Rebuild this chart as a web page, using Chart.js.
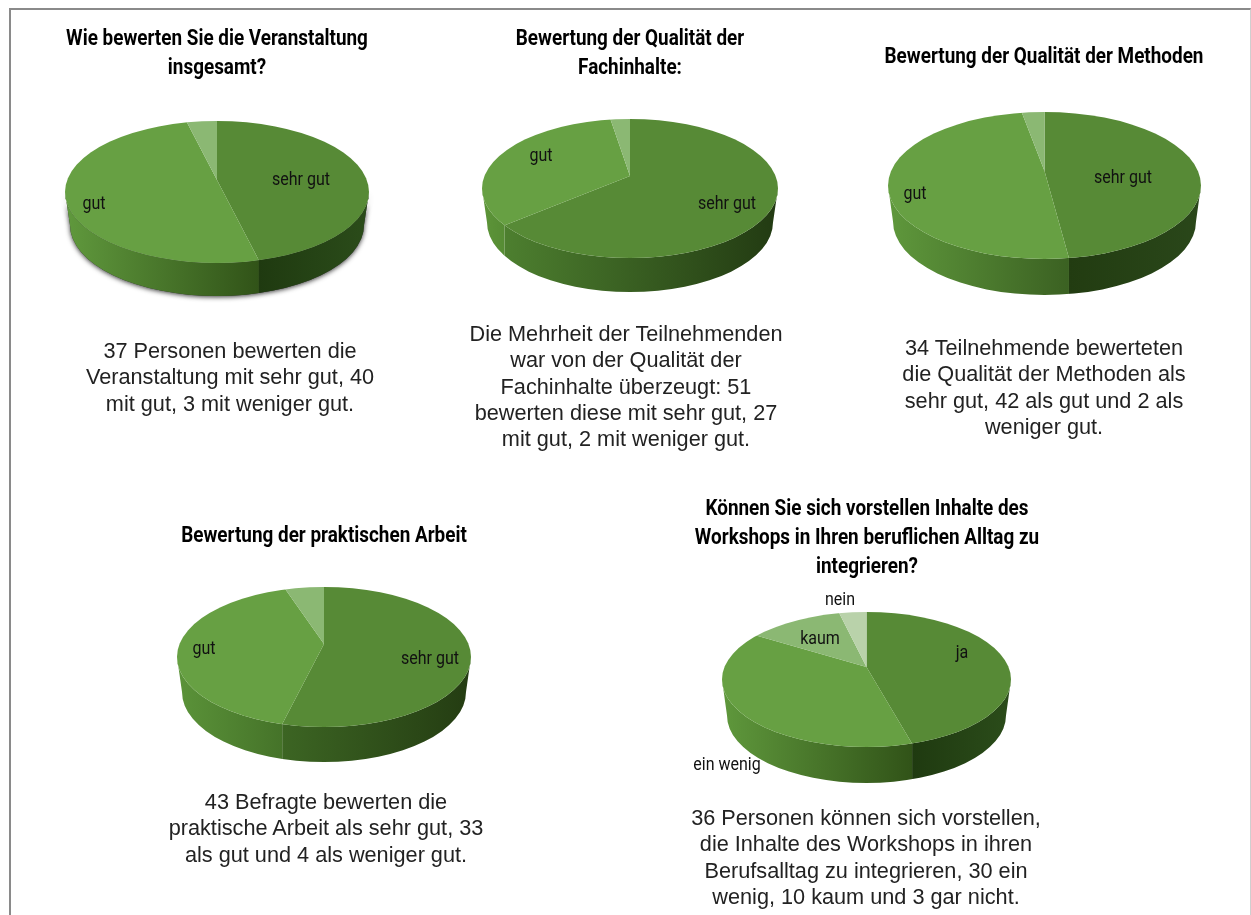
<!DOCTYPE html>
<html lang="de">
<head>
<meta charset="utf-8">
<title>Bewertung der Veranstaltung</title>
<script src="https://cdn.jsdelivr.net/npm/chart.js@4"></script>
<style>
  html, body { margin: 0; padding: 0; background: #fff; }
  body { width: 1251px; height: 915px; position: relative; overflow: hidden; }
  #frame { position: absolute; left: 9px; top: 8px; width: 1239px; height: 920px; border: 2px solid #8a8a8a; border-right: 1px solid #cfcfcf; }
  canvas { position: absolute; }
  .title, .body { position: absolute; text-align: center; white-space: nowrap; color: #000; }
  .title { font: bold 22.5px/29px Roboto, sans-serif; transform: translateX(-50%) scaleX(0.84); }
  .body { font: 21.7px/26.3px "Liberation Sans", Arial, sans-serif; color: #222; transform: translateX(-50%); }
</style>
</head>
<body>
<div id="frame"></div>
<script>
// values
const labelsRating = ['sehr gut', 'gut', 'weniger gut'];
const labelsUse = ['ja', 'ein wenig', 'kaum', 'nein'];
const valuesOverall = [37, 40, 3];
const valuesContent = [51, 27, 2];
// the slices in the picture are closer to even than the 34 / 42 in its caption
const valuesMethods = [37.5, 38.5, 2.2];
const valuesPractice = [43, 33, 4];
const valuesUse = [36, 30, 10, 3];

const colors = ['#578a36', '#67a043', '#8bb873', '#b9d2aa'];

// one entry per pie, geometry is in page pixels
const pies = [
  {
    labels: labelsRating, values: valuesOverall,
    title: ['Wie bewerten Sie die Veranstaltung', 'insgesamt?'], titleX: 217, titleY: 23,
    text: ['37 Personen bewerten die', 'Veranstaltung mit sehr gut, 40', 'mit gut, 3 mit weniger gut.'], textX: 230, textY: 338,
    left: 65, right: 369, top: 121, bottom: 263, apexY: 180, depth: 33, tilt: 0.46, shadow: true,
    walls: [['#1f3a10', '#2b4c1a'], ['#60993d', '#315318']],
    labelPos: [[301, 180], [94, 204], null]
  },
  {
    labels: labelsRating, values: valuesContent,
    title: ['Bewertung der Qualität der', 'Fachinhalte:'], titleX: 630, titleY: 23,
    text: ['Die Mehrheit der Teilnehmenden', 'war von der Qualität der', 'Fachinhalte überzeugt: 51', 'bewerten diese mit sehr gut, 27', 'mit gut, 2 mit weniger gut.'], textX: 626, textY: 321,
    left: 482, right: 778, top: 119, bottom: 258, apexY: 176, depth: 34, tilt: 0.46,
    walls: [['#4d7f2f', '#223a12'], ['#5d9539', '#568c34']],
    labelPos: [[727, 204], [541, 156], null]
  },
  {
    labels: labelsRating, values: valuesMethods,
    title: ['Bewertung der Qualität der Methoden'], titleX: 1044, titleY: 41,
    text: ['34 Teilnehmende bewerteten', 'die Qualität der Methoden als', 'sehr gut, 42 als gut und 2 als', 'weniger gut.'], textX: 1044, textY: 335,
    left: 888, right: 1201, top: 112, bottom: 259, apexY: 171, depth: 36, tilt: 0.46,
    walls: [['#223c11', '#2a471a'], ['#5f983c', '#3b6122']],
    labelPos: [[1123, 178], [915, 194], null]
  },
  {
    labels: labelsRating, values: valuesPractice,
    title: ['Bewertung der praktischen Arbeit'], titleX: 324, titleY: 520,
    text: ['43 Befragte bewerten die', 'praktische Arbeit als sehr gut, 33', 'als gut und 4 als weniger gut.'], textX: 326, textY: 789,
    left: 177, right: 471, top: 587, bottom: 727, apexY: 644, depth: 35, tilt: 0.46,
    walls: [['#3c6523', '#243c12'], ['#5b9339', '#457329']],
    labelPos: [[430, 659], [204, 649], null]
  },
  {
    labels: labelsUse, values: valuesUse,
    title: ['Können Sie sich vorstellen Inhalte des', 'Workshops in Ihren beruflichen Alltag zu', 'integrieren?'], titleX: 867, titleY: 493,
    text: ['36 Personen können sich vorstellen,', 'die Inhalte des Workshops in ihren', 'Berufsalltag zu integrieren, 30 ein', 'wenig, 10 kaum und 3 gar nicht.'], textX: 866, textY: 805,
    left: 722, right: 1011, top: 612, bottom: 747, apexY: 667, depth: 36, tilt: 0.48,
    walls: [['#1f3a10', '#2b4c1a'], ['#5f983c', '#315318']],
    labelPos: [[962, 653], [727, 765], [820, 639], [840, 600]]
  }
];

const margin = 45;

// where the edge of a slice meets the front rim of the top face
function rimHit(pie, angle, ox, oy) {
  const cx = (pie.left + pie.right) / 2 - ox, cy = (pie.top + pie.bottom) / 2 - oy;
  const rx = (pie.right - pie.left) / 2, ry = (pie.bottom - pie.top) / 2;
  const dx = Math.cos(angle), dy = pie.tilt * Math.sin(angle);
  const py = pie.apexY - oy - cy;
  const a = dx * dx / (rx * rx) + dy * dy / (ry * ry);
  const b = 2 * py * dy / (ry * ry);
  const c = py * py / (ry * ry) - 1;
  const t = (-b + Math.sqrt(b * b - 4 * a * c)) / (2 * a);
  return { x: cx + t * dx, y: cy + py + t * dy, front: py + t * dy > 0 };
}

const tiltPlugin = {
  id: 'tilt',
  beforeDatasetsDraw(chart, args, opts) {
    const pie = opts.pie;
    const ctx = chart.ctx;
    const ox = pie.left - margin, oy = pie.top - margin;
    const cx = (pie.left + pie.right) / 2 - ox, cy = (pie.top + pie.bottom) / 2 - oy;
    const rx = (pie.right - pie.left) / 2, ry = (pie.bottom - pie.top) / 2;
    const arcs = chart.getDatasetMeta(0).data;

    const wallPath = () => {
      ctx.beginPath();
      ctx.ellipse(cx, cy, rx, ry, 0, Math.PI, 0, true);
      ctx.ellipse(cx, cy + pie.depth, rx - 5, ry, 0, 0, Math.PI, false);
      ctx.closePath();
    };

    if (pie.shadow) {
      ctx.save();
      ctx.shadowColor = 'rgba(0,0,0,0.8)';
      ctx.shadowBlur = 5;
      ctx.shadowOffsetY = 1;
      ctx.fillStyle = '#333';
      wallPath();
      ctx.fill();
      ctx.restore();
    }

    // side wall, one horizontal gradient per slice
    arcs.forEach((arc, i) => {
      const start = rimHit(pie, arc.startAngle, ox, oy);
      const end = rimHit(pie, arc.endAngle, ox, oy);
      if (!start.front && !end.front) return;
      const x1 = start.front ? start.x : cx + rx;
      const x0 = end.front ? end.x : cx - rx;
      const g = ctx.createLinearGradient(x0, 0, x1, 0);
      g.addColorStop(0, pie.walls[i][0]);
      g.addColorStop(1, pie.walls[i][1]);
      ctx.save();
      wallPath();
      ctx.clip();
      ctx.fillStyle = g;
      ctx.fillRect(x0, 0, x1 - x0, chart.height);
      ctx.restore();
    });

    // top face: the library's own arcs, squeezed around the apex and cut to the rim
    ctx.save();
    ctx.beginPath();
    ctx.ellipse(cx, cy, rx, ry, 0, 0, Math.PI * 2);
    ctx.clip();
    arcs.forEach((arc) => {
      const s = rx * 1.5 / arc.outerRadius;
      ctx.save();
      ctx.translate(cx, pie.apexY - oy);
      ctx.scale(s, s * pie.tilt);
      ctx.translate(-arc.x, -arc.y);
      arc.draw(ctx);
      ctx.restore();
    });
    ctx.restore();

    ctx.save();
    ctx.fillStyle = '#111';
    ctx.font = '18px Roboto, sans-serif';
    ctx.textAlign = 'center';
    ctx.textBaseline = 'middle';
    chart.data.labels.forEach((name, i) => {
      const at = pie.labelPos[i];
      if (!at) return;
      ctx.save();
      ctx.translate(at[0] - ox, at[1] - oy);
      ctx.scale(0.89, 1);
      ctx.fillText(name, 0, 0);
      ctx.restore();
    });
    ctx.restore();
    return false;
  }
};

function addText(cls, lines, x, y) {
  const div = document.createElement('div');
  div.className = cls;
  div.style.left = x + 'px';
  div.style.top = y + 'px';
  div.innerHTML = lines.join('<br>');
  document.body.appendChild(div);
}

pies.forEach((pie) => {
  const canvas = document.createElement('canvas');
  canvas.width = pie.right - pie.left + margin * 2;
  canvas.height = pie.bottom - pie.top + pie.depth + margin * 2;
  canvas.style.left = (pie.left - margin) + 'px';
  canvas.style.top = (pie.top - margin) + 'px';
  document.body.appendChild(canvas);

  new Chart(canvas.getContext('2d'), {
    type: 'pie',
    data: {
      labels: pie.labels,
      datasets: [{
        data: pie.values,
        backgroundColor: colors,
        borderWidth: 0
      }]
    },
    options: {
      responsive: false,
      animation: false,
      events: [],
      plugins: {
        legend: { display: false },
        tooltip: { enabled: false },
        tilt: { pie: pie }
      }
    },
    plugins: [tiltPlugin]
  });

  addText('title', pie.title, pie.titleX, pie.titleY);
  addText('body', pie.text, pie.textX, pie.textY);
});
</script>
</body>
</html>
